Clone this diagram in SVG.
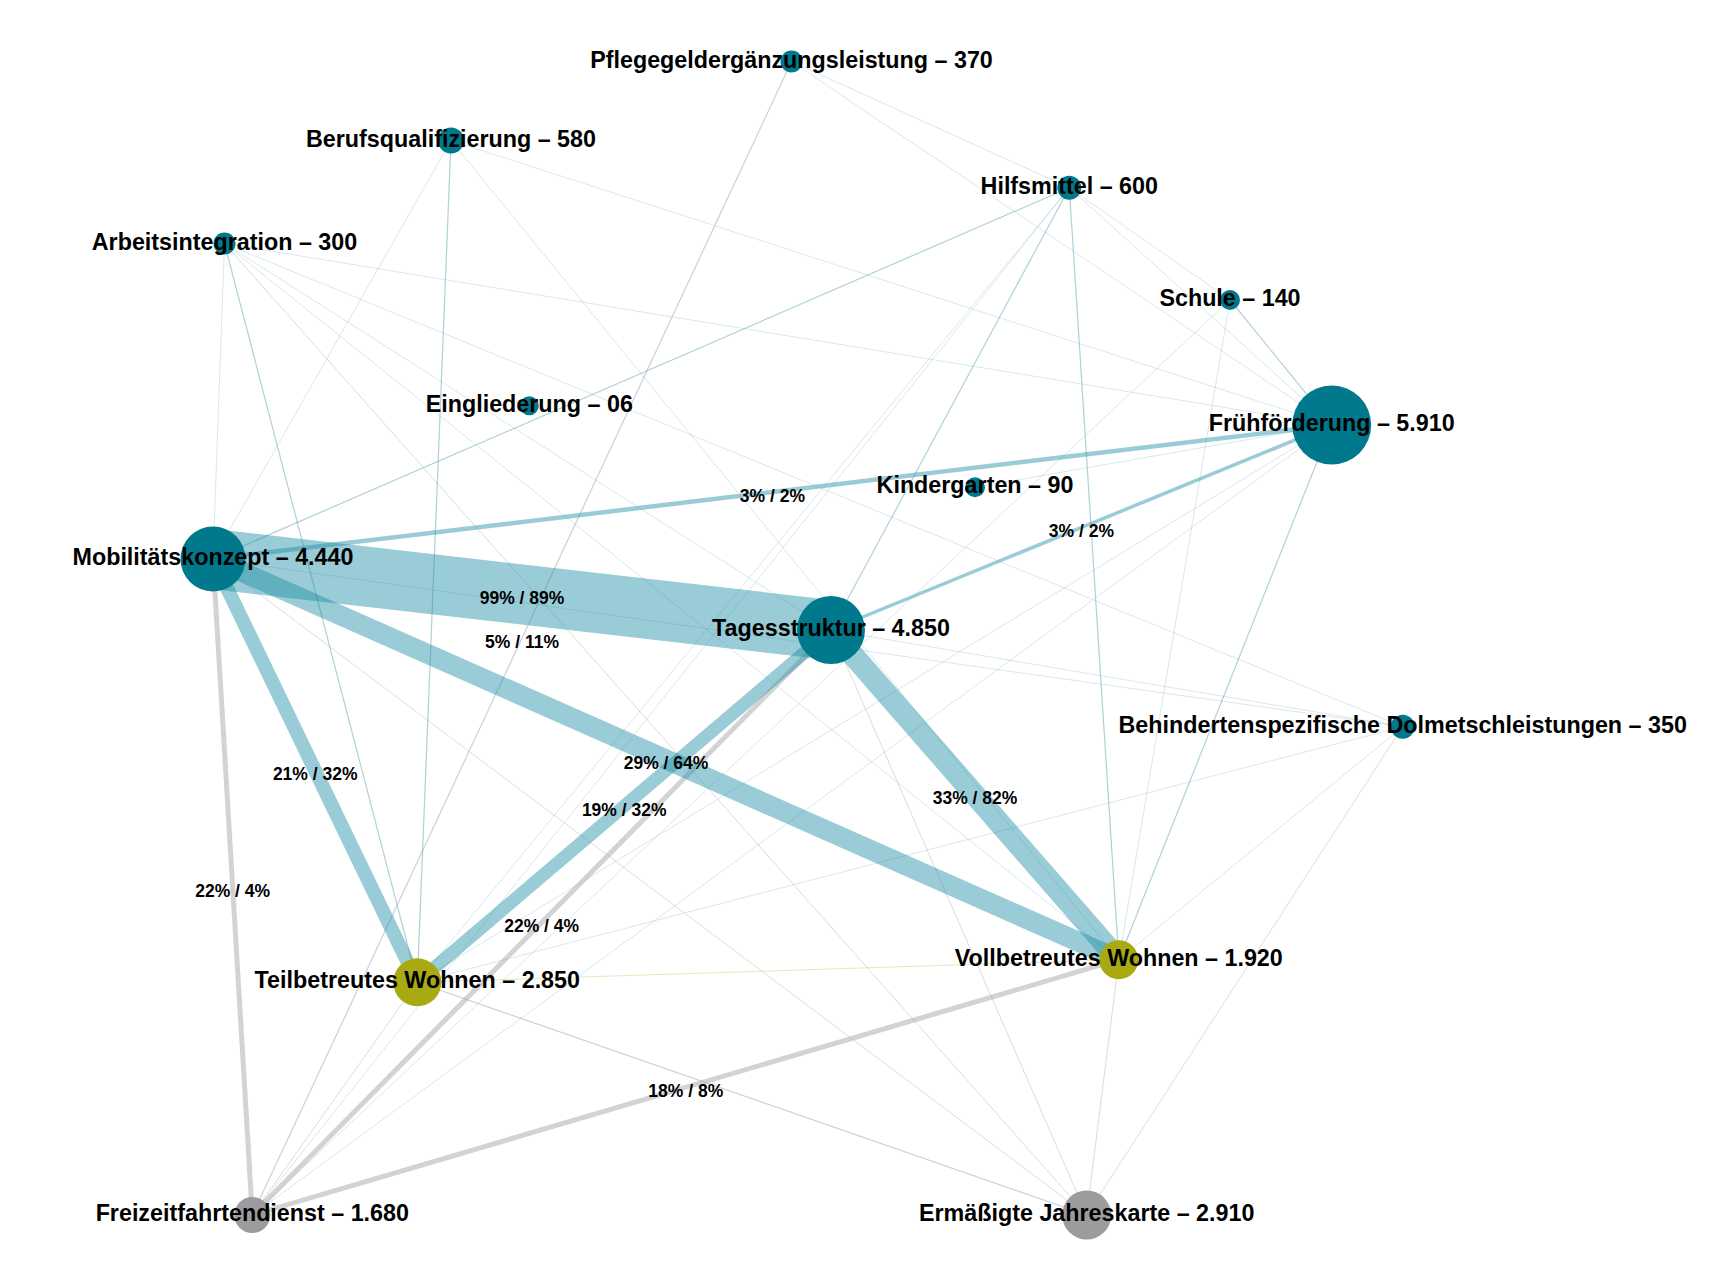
<svg xmlns="http://www.w3.org/2000/svg" width="1717" height="1286" viewBox="0 0 1717 1286">
<style>
.bg{fill:#ffffff}
.e{fill:none;stroke-linecap:butt}
.tf{stroke:#4f98ab;stroke-opacity:.22;stroke-width:1}
.tm{stroke:#4f98ab;stroke-opacity:.45;stroke-width:1.2}
.gf{stroke:#9a9a9a;stroke-opacity:.35;stroke-width:1}
.gm{stroke:#8a9aa2;stroke-opacity:.45;stroke-width:1.2}
.yf{stroke:#b8b84a;stroke-opacity:.35;stroke-width:1}
.tk{stroke:#1c8ea3;stroke-opacity:.45}
.gk{stroke:#a8a8a8;stroke-opacity:.5}
.nt{fill:#00798c}
.ny{fill:#a9a912}
.ng{fill:#9c9c9e}
.nl{font-family:"Liberation Sans",Arial,sans-serif;font-weight:bold;font-size:23.3px;fill:#000;text-anchor:middle}
.el{font-family:"Liberation Sans",Arial,sans-serif;font-weight:bold;font-size:17.5px;fill:#000;text-anchor:middle}
</style>
<rect class="bg" x="0" y="0" width="1717" height="1286"/>
<g id="connectors">
  <line class="e tf" x1="224.5" y1="243.5" x2="213" y2="559"/>
  <line class="e tm" x1="224.5" y1="243.5" x2="417.3" y2="982.3"/>
  <line class="e tf" x1="224.5" y1="243.5" x2="1118.8" y2="959.7"/>
  <line class="e tf" x1="224.5" y1="243.5" x2="831" y2="630"/>
  <line class="e tf" x1="224.5" y1="243.5" x2="1402.7" y2="726.7"/>
  <line class="e tf" x1="224.5" y1="243.5" x2="1331.7" y2="425"/>
  <line class="e tf" x1="451" y1="140.5" x2="213" y2="559"/>
  <line class="e tm" x1="451" y1="140.5" x2="417.3" y2="982.3"/>
  <line class="e tf" x1="451" y1="140.5" x2="1118.8" y2="959.7"/>
  <line class="e tf" x1="451" y1="140.5" x2="1331.7" y2="425"/>
  <line class="e tf" x1="791.5" y1="61.5" x2="1069.3" y2="187.7"/>
  <line class="e tf" x1="791.5" y1="61.5" x2="1331.7" y2="425"/>
  <line class="e tm" x1="1069.3" y1="187.7" x2="213" y2="559"/>
  <line class="e tm" x1="1069.3" y1="187.7" x2="831" y2="630"/>
  <line class="e tm" x1="1069.3" y1="187.7" x2="1118.8" y2="959.7"/>
  <line class="e tf" x1="1069.3" y1="187.7" x2="1331.7" y2="425"/>
  <line class="e tf" x1="1069.3" y1="187.7" x2="1230" y2="300"/>
  <line class="e tf" x1="1069.3" y1="187.7" x2="417.3" y2="982.3"/>
  <line class="e tm" x1="1230" y1="300" x2="1331.7" y2="425"/>
  <line class="e tf" x1="1230" y1="300" x2="1118.8" y2="959.7"/>
  <line class="e tf" x1="1331.7" y1="425" x2="975" y2="487.3"/>
  <line class="e tf" x1="1331.7" y1="425" x2="417.3" y2="982.3"/>
  <line class="e tm" x1="1331.7" y1="425" x2="1118.8" y2="959.7"/>
  <line class="e tf" x1="1402.7" y1="726.7" x2="831" y2="630"/>
  <line class="e tf" x1="1402.7" y1="726.7" x2="213" y2="559"/>
  <line class="e tf" x1="1402.7" y1="726.7" x2="417.3" y2="982.3"/>
  <line class="e tf" x1="1402.7" y1="726.7" x2="1118.8" y2="959.7"/>
  <line class="e yf" x1="417.3" y1="982.3" x2="1118.8" y2="959.7"/>
  <line class="e gm" x1="791.5" y1="61.5" x2="252.3" y2="1215"/>
  <line class="e gm" x1="417.3" y1="982.3" x2="1086.7" y2="1215"/>
  <line class="e gf" x1="417.3" y1="982.3" x2="252.3" y2="1215"/>
  <line class="e gf" x1="831" y1="630" x2="1086.7" y2="1215"/>
  <line class="e gf" x1="213" y1="559" x2="1086.7" y2="1215"/>
  <line class="e gf" x1="224.5" y1="243.5" x2="1086.7" y2="1215"/>
  <line class="e gf" x1="1118.8" y1="959.7" x2="1086.7" y2="1215"/>
  <line class="e gf" x1="1402.7" y1="726.7" x2="1086.7" y2="1215"/>
  <line class="e tf" x1="1069.3" y1="187.7" x2="252.3" y2="1215"/>
  <line class="e tf" x1="1230" y1="300" x2="252.3" y2="1215"/>
  <line class="e tf" x1="1331.7" y1="425" x2="252.3" y2="1215"/>
  <line class="e gk" x1="213" y1="559" x2="252.3" y2="1215" stroke-width="5"/>
  <line class="e gk" x1="831" y1="630" x2="252.3" y2="1215" stroke-width="5"/>
  <line class="e gk" x1="1118.8" y1="959.7" x2="252.3" y2="1215" stroke-width="5"/>
  <line class="e tk" x1="213" y1="559" x2="1331.7" y2="425" stroke-width="4.5"/>
  <line class="e tk" x1="831" y1="630" x2="1331.7" y2="425" stroke-width="3.5"/>
  <line class="e tk" x1="213" y1="559" x2="417.3" y2="982.3" stroke-width="14"/>
  <line class="e tk" x1="831" y1="630" x2="417.3" y2="982.3" stroke-width="13"/>
  <line class="e tk" x1="213" y1="559" x2="1118.8" y2="959.7" stroke-width="20"/>
  <line class="e tk" x1="831" y1="630" x2="1118.8" y2="959.7" stroke-width="22"/>
  <line class="e tk" x1="213" y1="559" x2="831" y2="630" stroke-width="60"/>
</g>
<g id="nodes">
  <g id="n-pflegegeld"><circle class="nt" cx="791.5" cy="61.5" r="11"/></g>
  <g id="n-beruf"><circle class="nt" cx="451" cy="140.5" r="13"/></g>
  <g id="n-arbeit"><circle class="nt" cx="224.5" cy="243.5" r="11"/></g>
  <g id="n-eingl"><circle class="nt" cx="529.3" cy="405.7" r="9.5"/></g>
  <g id="n-hilfs"><circle class="nt" cx="1069.3" cy="187.7" r="12"/></g>
  <g id="n-schule"><circle class="nt" cx="1230" cy="300" r="10"/></g>
  <g id="n-frueh"><circle class="nt" cx="1331.7" cy="425" r="39.5"/></g>
  <g id="n-kiga"><circle class="nt" cx="975" cy="487.3" r="10"/></g>
  <g id="n-mobil"><circle class="nt" cx="213" cy="559" r="32.5"/></g>
  <g id="n-tages"><circle class="nt" cx="831" cy="630" r="34"/></g>
  <g id="n-dolm"><circle class="nt" cx="1402.7" cy="726.7" r="12"/></g>
  <g id="n-teil"><circle class="ny" cx="417.3" cy="982.3" r="24"/></g>
  <g id="n-voll"><circle class="ny" cx="1118.8" cy="959.7" r="19.5"/></g>
  <g id="n-freizeit"><circle class="ng" cx="252.3" cy="1215" r="18"/></g>
  <g id="n-jahres"><circle class="ng" cx="1086.7" cy="1215" r="24.5"/></g>
</g>
<g id="node-labels">
  <text class="nl" x="791.5" y="67.5">Pflegegeldergänzungsleistung – 370</text>
  <text class="nl" x="451" y="146.5">Berufsqualifizierung – 580</text>
  <text class="nl" x="224.5" y="249.5">Arbeitsintegration – 300</text>
  <text class="nl" x="529.3" y="411.7">Eingliederung – 06</text>
  <text class="nl" x="1069.3" y="193.7">Hilfsmittel – 600</text>
  <text class="nl" x="1230" y="306">Schule – 140</text>
  <text class="nl" x="1331.7" y="431">Frühförderung – 5.910</text>
  <text class="nl" x="975" y="493.3">Kindergarten – 90</text>
  <text class="nl" x="213" y="565">Mobilitätskonzept – 4.440</text>
  <text class="nl" x="831" y="636">Tagesstruktur – 4.850</text>
  <text class="nl" x="1402.7" y="732.7">Behindertenspezifische Dolmetschleistungen – 350</text>
  <text class="nl" x="417.3" y="988.3">Teilbetreutes Wohnen – 2.850</text>
  <text class="nl" x="1118.8" y="965.7">Vollbetreutes Wohnen – 1.920</text>
  <text class="nl" x="252.3" y="1221">Freizeitfahrtendienst – 1.680</text>
  <text class="nl" x="1086.7" y="1221">Ermäßigte Jahreskarte – 2.910</text>
</g>
<g id="edge-labels">
  <text class="el" x="522" y="604">99% / 89%</text>
  <text class="el" x="522" y="648">5% / 11%</text>
  <text class="el" x="772.4" y="501.7">3% / 2%</text>
  <text class="el" x="1081.4" y="537.2">3% / 2%</text>
  <text class="el" x="315.2" y="780.4">21% / 32%</text>
  <text class="el" x="666" y="768.9">29% / 64%</text>
  <text class="el" x="624.2" y="815.9">19% / 32%</text>
  <text class="el" x="975" y="804.4">33% / 82%</text>
  <text class="el" x="232.7" y="896.7">22% / 4%</text>
  <text class="el" x="541.7" y="932.2">22% / 4%</text>
  <text class="el" x="685.8" y="1096.9">18% / 8%</text>
</g>
</svg>
